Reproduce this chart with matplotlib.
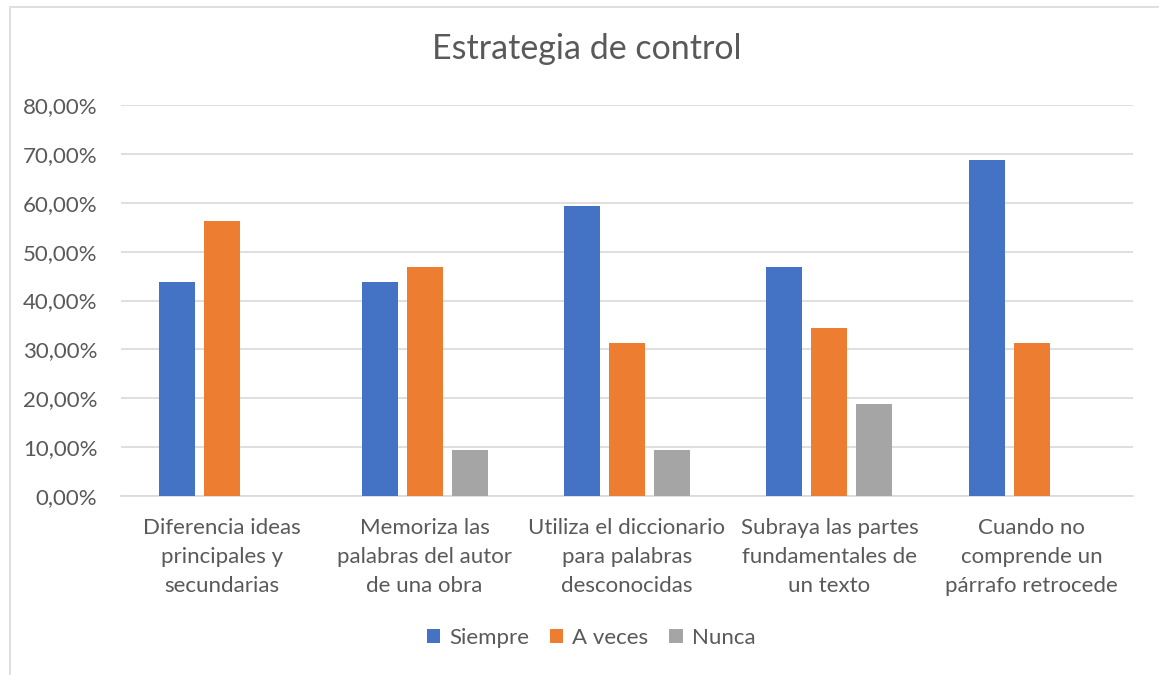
import matplotlib
matplotlib.use("Agg")
import matplotlib.pyplot as plt
from matplotlib.patches import Rectangle
import numpy as np

categories = ["Diferencia ideas\nprincipales y\nsecundarias",
              "Memoriza las\npalabras del autor\nde una obra",
              "Utiliza el diccionario\npara palabras\ndesconocidas",
              "Subraya las partes\nfundamentales de\nun texto",
              "Cuando no\ncomprende un\npárrafo retrocede"]
series_names = ["Siempre", "A veces", "Nunca"]
siempre = [43.75, 43.75, 59.375, 46.875, 68.75]
a_veces = [56.25, 46.875, 31.25, 34.375, 31.25]
nunca = [0, 9.375, 9.375, 18.75, 0]
colors = ["#4472C4", "#ED7D31", "#A5A5A5"]
yticks = [0, 10, 20, 30, 40, 50, 60, 70, 80]

plt.rcParams['font.family'] = ['Lato', 'DejaVu Sans']
W, H = 1159, 675
fig = plt.figure(figsize=(W/100, H/100), dpi=100)
fig.patches.append(Rectangle((9.5/W, -0.1), 1.2, 1.1 - 6.5/H, transform=fig.transFigure,
                             fill=False, edgecolor="#D9D9D9", linewidth=1.2))
ax = fig.add_axes([121/W, 1-496/H, (1133-121)/W, (496-105)/H])

x = np.arange(len(categories))
bw = 36/202.4
step = 45/202.4
for i, (vals, name) in enumerate(zip([siempre, a_veces, nunca], series_names)):
    ax.bar(x + (i-1)*step, vals, bw, color=colors[i], label=name, zorder=3)

ax.set_xlim(-0.5, len(categories)-0.5)
ax.set_ylim(0, 80)
ax.set_yticks(yticks)
ax.set_yticklabels([f"{v:.2f}%".replace(".", ",") for v in yticks])
ax.set_xticks(x)
ax.set_xticklabels(categories, linespacing=1.57)
ax.grid(axis="y", color="#D9D9D9", linewidth=1.2, zorder=0)
for s in ["top", "right", "left"]:
    ax.spines[s].set_visible(False)
ax.spines["bottom"].set_color("#D9D9D9")
ax.spines["bottom"].set_linewidth(1.2)
ax.tick_params(axis="both", length=0, labelsize=16, colors="#595959")
ax.tick_params(axis="y", pad=17)
ax.tick_params(axis="x", pad=16)

fig.text(587/W, 1-49/H, "Estrategia de control", ha="center", va="center", fontsize=24.5, color="#595959")
leg = fig.legend(loc="center", bbox_to_anchor=(591/W, 1-638/H), ncol=3, frameon=False,
                 fontsize=16, handlelength=0.6, handleheight=0.6, handletextpad=0.4,
                 columnspacing=0.95, labelcolor="#595959")
fig.savefig("out.png", dpi=100)
